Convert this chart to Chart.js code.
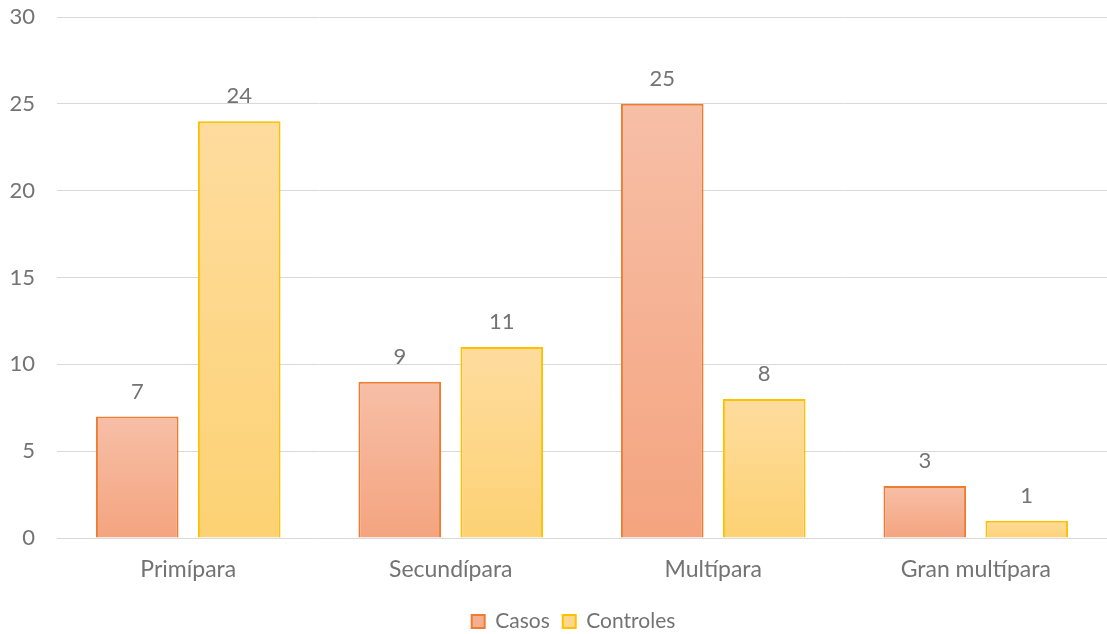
<!DOCTYPE html>
<html>
<head>
<meta charset="utf-8">
<script src="https://cdn.jsdelivr.net/npm/chart.js@4"></script>
<style>
html,body{margin:0;padding:0;background:#fff;}
#wrap{width:1107px;height:634px;position:relative;}
</style>
</head>
<body>
<div id="wrap"><canvas id="c" width="1107" height="634"></canvas></div>
<script>
const categories = ["Primípara", "Secundípara", "Multípara", "Gran multípara"];
const seriesNames = ["Casos", "Controles"];
const casos = [7, 9, 25, 3];
const controles = [24, 11, 8, 1];
const yTicks = [0, 5, 10, 15, 20, 25, 30];

const FONT = "Lato, 'Liberation Sans', sans-serif";
const TEXT = "#737373";

function barGradient(top, bottom) {
  return function(ctx) {
    const chart = ctx.chart;
    const ys = chart.scales.y;
    if (!ys || ctx.parsed === undefined) return bottom;
    const y0 = ys.getPixelForValue(0);
    const y1 = ys.getPixelForValue(ctx.parsed.y);
    if (!isFinite(y0) || !isFinite(y1) || y0 === y1) return bottom;
    const g = chart.ctx.createLinearGradient(0, y1, 0, y0);
    g.addColorStop(0, top);
    g.addColorStop(1, bottom);
    return g;
  };
}

const dataLabels = {
  id: 'dataLabels',
  afterDatasetsDraw(chart) {
    const ctx = chart.ctx;
    ctx.save();
    ctx.font = "22px " + FONT;
    ctx.fillStyle = TEXT;
    ctx.textAlign = 'center';
    ctx.textBaseline = 'middle';
    chart.data.datasets.forEach((ds, i) => {
      const meta = chart.getDatasetMeta(i);
      meta.data.forEach((bar, j) => {
        ctx.fillText(String(ds.data[j]), bar.x, bar.y - 25);
      });
    });
    ctx.restore();
  }
};

const legendShift = {
  id: 'legendShift',
  afterLayout(chart) {
    if (chart.legend) { chart.legend.left += 40; }
  }
};

new Chart(document.getElementById('c'), {
  type: 'bar',
  data: {
    labels: categories,
    datasets: [
      {
        label: seriesNames[0],
        data: casos,
        backgroundColor: barGradient('#F7BFA7', '#F4A47F'),
        borderColor: '#ED7D31',
        borderWidth: 2,
        borderSkipped: 'bottom',
        categoryPercentage: 0.777,
        barPercentage: 0.81
      },
      {
        label: seriesNames[1],
        data: controles,
        backgroundColor: barGradient('#FEDC9E', '#FDD274'),
        borderColor: '#FFC000',
        borderWidth: 2,
        borderSkipped: 'bottom',
        categoryPercentage: 0.777,
        barPercentage: 0.81
      }
    ]
  },
  options: {
    responsive: false,
    animation: false,
    layout: { padding: { top: 0, right: 0, left: 0, bottom: -8 } },
    plugins: {
      tooltip: { enabled: false },
      legend: {
        position: 'bottom',
        labels: {
          font: { family: FONT, size: 21 },
          color: TEXT,
          boxWidth: 13,
          boxHeight: 13,
          padding: 13,
          generateLabels(chart) {
            return [
              { text: seriesNames[0], fillStyle: '#F5AE8F', strokeStyle: '#ED7D31', lineWidth: 2, datasetIndex: 0, fontColor: TEXT },
              { text: seriesNames[1], fillStyle: '#FED78A', strokeStyle: '#FFC000', lineWidth: 2, datasetIndex: 1, fontColor: TEXT }
            ];
          }
        }
      }
    },
    scales: {
      x: {
        grid: { display: false },
        border: { display: true, color: '#D9D9D9', width: 1 },
        ticks: { font: { family: FONT, size: 23 }, color: TEXT, padding: 10 },
        afterFit(scale) { scale.height = 60; }
      },
      y: {
        min: 0, max: 30,
        afterBuildTicks(scale) { scale.ticks = yTicks.map(v => ({ value: v })); },
        afterFit(scale) { scale.width = 57; scale.paddingTop = 17; scale.paddingBottom = 0; },
        grid: { color: '#D9D9D9', lineWidth: 1, drawTicks: false },
        border: { display: false },
        ticks: { font: { family: FONT, size: 22 }, color: TEXT, padding: 22 }
      }
    }
  },
  plugins: [dataLabels, legendShift]
});
</script>
</body>
</html>
